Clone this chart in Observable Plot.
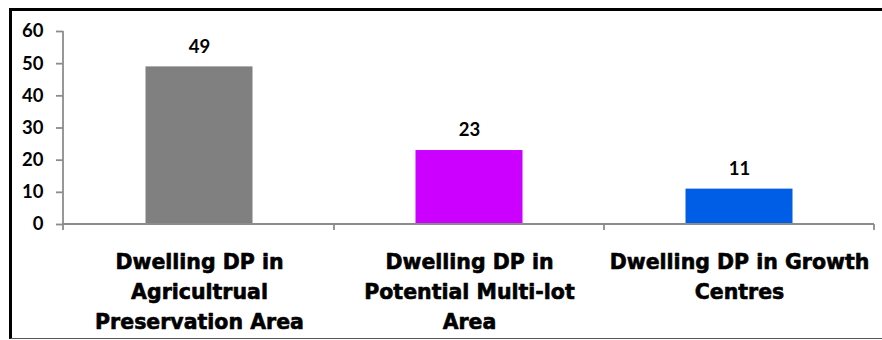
<!DOCTYPE html>
<html><head><meta charset="utf-8">
<script src="https://cdn.jsdelivr.net/npm/d3@7"></script>
<script src="https://cdn.jsdelivr.net/npm/@observablehq/plot@0.6"></script>
<style>
body{margin:0;background:#fff;}
#wrap{position:relative;width:882px;height:340px;overflow:hidden;}
#frame{position:absolute;left:9px;top:8px;width:873px;height:331px;border-left:3px solid #000;border-top:3px solid #000;border-bottom:1px solid #555;box-sizing:border-box;}
#chart{position:absolute;left:0;top:0;}
</style></head><body>
<div id="wrap"><div id="frame"></div><div id="chart"></div></div>
<script>
const categories = ["Agricultrual Preservation Area", "Potential Multi-lot Area", "Growth Centres"];
const labels = ["Dwelling DP in\nAgricultrual\nPreservation Area", "Dwelling DP in\nPotential Multi-lot\nArea", "Dwelling DP in Growth\nCentres"];
const values = [49, 23, 11];
const colors = ["#808080", "#cc00ff", "#005ee6"];
const yTicks = [0, 10, 20, 30, 40, 50, 60];

const data = categories.map((c, i) => ({category: c, label: labels[i], value: values[i], color: colors[i]}));
const axisGray = "#8c8c8c";

function axisLines(index, scales, vals, dims) {
  const x = scales.x, y = scales.y;
  const bw = typeof x.bandwidth === "function" ? x.bandwidth() : x.bandwidth;
  const y0 = y(0), yTop = y(yTicks[yTicks.length - 1]);
  const g = d3.create("svg:g").attr("stroke", axisGray).attr("stroke-width", 1.8).attr("fill", "none");
  const xl = dims.marginLeft;
  g.append("line").attr("x1", xl).attr("x2", xl).attr("y1", yTop).attr("y2", y0 + 6);
  g.append("line").attr("x1", xl).attr("x2", dims.width - dims.marginRight).attr("y1", y0).attr("y2", y0);
  const bounds = categories.map(c => x(c)).concat([x(categories[categories.length - 1]) + bw]);
  for (const b of bounds.slice(1)) {
    g.append("line").attr("x1", b).attr("x2", b).attr("y1", y0).attr("y2", y0 + 6);
  }
  return g.node();
}

const chart = Plot.plot({
  width: 882,
  height: 340,
  marginLeft: 63,
  marginRight: 8,
  marginTop: 31,
  marginBottom: 116,
  style: {background: "transparent", overflow: "visible"},
  x: {domain: categories, padding: 0, axis: null},
  y: {domain: [0, 60], axis: null},
  marks: [
    Plot.barY(data, {x: "category", y: "value", fill: "color", insetLeft: 81.5, insetRight: 81.5}),
    Plot.axisY({ticks: yTicks, tickSize: 7, tickPadding: 13, stroke: axisGray, strokeWidth: 1.8, fill: "#000",
      fontSize: 18.5, fontWeight: "bold", fontFamily: "Lato", label: null}),
    axisLines,
    Plot.text(data, {x: "category", y: "value", text: d => String(d.value), dy: -20, lineAnchor: "middle",
      fontSize: 18.5, fontWeight: "bold", fontFamily: "Lato", fill: "#000"}),
    Plot.text(data, {x: "category", text: "label", frameAnchor: "bottom", lineAnchor: "top", dy: 23,
      lineHeight: 1.46, fontSize: 20.5, fontWeight: "bold", fontFamily: "DejaVu Sans", fill: "#000",
      stroke: "#000", strokeWidth: 0.6})
  ]
});
document.getElementById("chart").appendChild(chart);
</script>
</body></html>
